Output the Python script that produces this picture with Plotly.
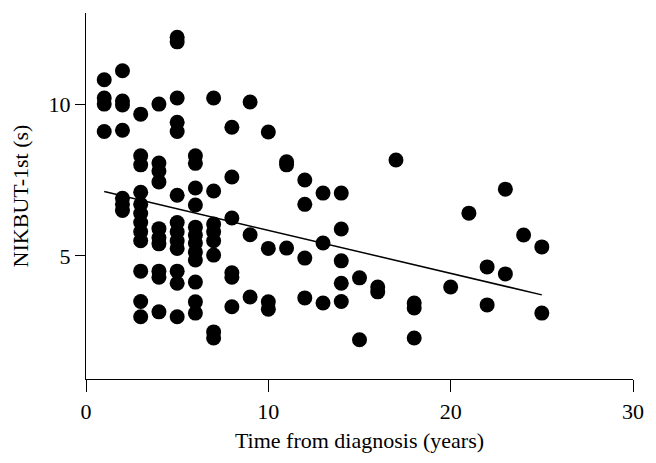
import plotly.graph_objects as go

# Data (years since diagnosis, NIKBUT-1st in s)
years = (
    [1]*4 + [2]*7 + [3]*12 + [4]*10 + [5]*13 + [6]*12 + [7]*8 + [8]*6 + [9]*3 +
    [10]*4 + [11]*3 + [12]*4 + [13]*3 + [14]*5 + [15]*2 + [16]*2 + [17]*1 +
    [18]*3 + [20]*1 + [21]*1 + [22]*2 + [23]*2 + [24]*1 + [25]*2
)
nikbut = (
    [10.8, 10.2, 10.0, 9.1] +
    [11.1, 10.1, 9.97, 9.14, 6.9, 6.7, 6.5] +
    [9.67, 8.3, 8.0, 7.1, 6.7, 6.4, 6.1, 5.8, 5.5, 4.5, 3.5, 3.0] +
    [10.0, 8.06, 7.8, 7.44, 5.9, 5.6, 5.4, 4.5, 4.3, 3.16] +
    [12.2, 12.05, 10.2, 9.4, 9.1, 7.0, 6.1, 5.8, 5.5, 5.25, 4.5, 4.1, 3.0] +
    [8.3, 8.05, 7.24, 6.68, 5.95, 5.69, 5.43, 5.13, 4.87, 4.14, 3.49, 3.12] +
    [10.2, 7.14, 6.05, 5.8, 5.5, 5.03, 2.5, 2.3] +
    [9.24, 7.6, 6.25, 4.45, 4.3, 3.33] +
    [10.07, 5.7, 3.65] +
    [9.08, 5.25, 3.49, 3.25] +
    [8.1, 8.0, 5.26] +
    [7.5, 6.7, 4.93, 3.62] +
    [7.07, 5.43, 3.45] +
    [7.07, 5.89, 4.84, 4.1, 3.5] +
    [4.28, 2.24] +
    [3.98, 3.82] +
    [8.16] +
    [3.45, 3.29, 2.3] +
    [3.98] +
    [6.41] +
    [4.64, 3.39] +
    [7.2, 4.41] +
    [5.69] +
    [5.3, 3.12]
)

# Fitted trend line end points
trend_x = [1, 25]
trend_y = [7.12, 3.72]

x_ticks = [0, 10, 20, 30]
y_ticks = [5, 10]

FONT = "Liberation Serif"
FS = 22

fig = go.Figure()
fig.add_trace(go.Scatter(
    x=years, y=nikbut, mode="markers",
    marker=dict(size=15, color="black", line=dict(width=0)),
    showlegend=False, cliponaxis=False,
))
fig.add_trace(go.Scatter(
    x=trend_x, y=trend_y, mode="lines",
    line=dict(color="black", width=1.5),
    showlegend=False,
))

fig.update_layout(
    width=656, height=463,
    margin=dict(l=78, r=31, t=5, b=92),
    paper_bgcolor="white", plot_bgcolor="white",
    font=dict(family=FONT, size=FS, color="black"),
    xaxis=dict(
        range=[0, 30], tickvals=x_ticks, showgrid=False, zeroline=False,
        showline=True, linecolor="black", linewidth=1.2,
        ticks="outside", ticklen=12, tickwidth=1.2, tickcolor="black",
        title=dict(text="Time from diagnosis (years)", standoff=10,
                   font=dict(family=FONT, size=FS)),
    ),
    yaxis=dict(
        range=[0.95, 13], tickvals=y_ticks, showgrid=False, zeroline=False,
        showline=True, linecolor="black", linewidth=1.2,
        ticks="outside", ticklen=10, tickwidth=1.2, tickcolor="black",
        title=dict(text="NIKBUT-1st (s)", standoff=18,
                   font=dict(family=FONT, size=FS)),
    ),
)

fig.write_html("out.html")
